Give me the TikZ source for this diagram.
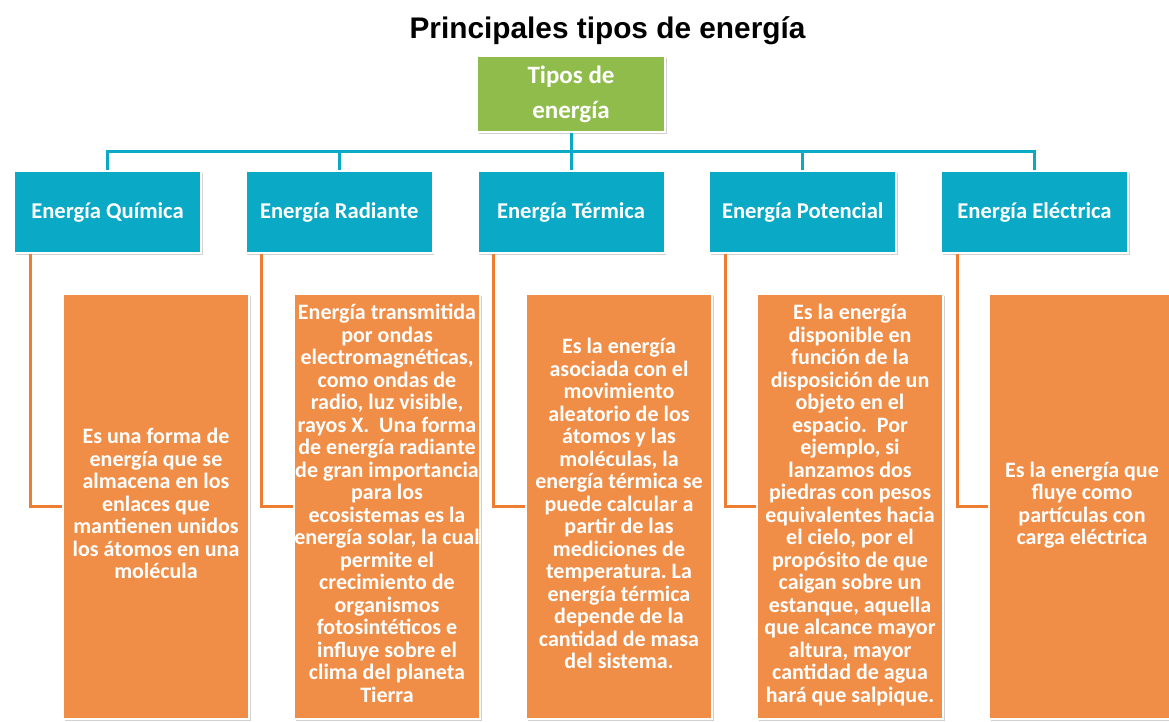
\documentclass[tikz,border=0pt]{standalone}
\usepackage{fontspec}
\setmainfont{Carlito}
\newfontfamily\titlefont{Liberation Sans}
\usetikzlibrary{shadows}
\frenchspacing
\definecolor{cblue}{HTML}{0AA9C6}
\definecolor{cgreen}{HTML}{8FBC4A}
\definecolor{corange}{HTML}{F08E48}
\definecolor{cline}{HTML}{ED7D31}
\newcommand{\mlines}[1]{\makebox[0pt]{\begin{tabular}{@{}c@{}}#1\end{tabular}}}
\tikzset{
  boxbase/.style={rectangle, inner sep=0pt, draw=white, line width=2pt,
    drop shadow={shadow xshift=1.5pt, shadow yshift=-2pt, fill=black, opacity=0.18},
    text=white, align=center, font=\bfseries},
  rootbox/.style={boxbase, fill=cgreen, minimum width=188pt, minimum height=76pt,
    font=\bfseries\fontsize{25}{35}\selectfont},
  headbox/.style={boxbase, fill=cblue, minimum width=187pt, minimum height=81pt,
    font=\bfseries\fontsize{22.6}{26}\selectfont},
  descbox/.style={boxbase, fill=corange, minimum width=186pt, minimum height=425pt,
    font=\bfseries\fontsize{22}{22.5}\selectfont},
  busline/.style={draw=cblue, line width=3pt},
  legline/.style={draw=cline, line width=3pt}
}
\begin{document}
\begin{tikzpicture}[x=1pt,y=-1pt]
\clip (0,0) rectangle (1169,722);
\fill[white] (0,0) rectangle (1169,722);
\node[anchor=base, font=\titlefont\bfseries\fontsize{29.8}{34}\selectfont] (title) at (607.5,38.5) {Principales tipos de energía};
\node[rootbox] (root) at (571,94) {\raisebox{4pt}{\mlines{Tipos de\\energía}}};

\node[headbox] (h1) at (107.5,212) {Energía Química};
\node[headbox] (h2) at (339.25,212) {Energía Radiante};
\node[headbox] (h3) at (571,212) {Energía Térmica};
\node[headbox] (h4) at (802.75,212) {Energía Potencial};
\node[headbox] (h5) at (1034.5,212) {Energía Eléctrica};

\node[descbox] (d1) at (156,506.5) {\mlines{Es una forma de\\energía que se\\almacena en los\\enlaces que\\mantienen unidos\\los átomos en una\\molécula}};
\node[descbox] (d2) at (387,506.5) {\mlines{Energía transmitida\\por ondas\\electromagnéticas,\\como ondas de\\radio, luz visible,\\rayos X.\ \ Una forma\\de energía radiante\\de gran importancia\\para los\\ecosistemas es la\\energía solar, la cual\\permite el\\crecimiento de\\organismos\\fotosintéticos e\\influye sobre el\\clima del planeta\\Tierra}};
\node[descbox] (d3) at (619,506.5) {\mlines{Es la energía\\asociada con el\\movimiento\\aleatorio de los\\átomos y las\\moléculas, la\\energía térmica se\\puede calcular a\\partir de las\\mediciones de\\temperatura. La\\energía térmica\\depende de la\\cantidad de masa\\del sistema.}};
\node[descbox] (d4) at (850,506.5) {\mlines{Es la energía\\disponible en\\función de la\\disposición de un\\objeto en el\\espacio.\ \ Por\\ejemplo, si\\lanzamos dos\\piedras con pesos\\equivalentes hacia\\el cielo, por el\\propósito de que\\caigan sobre un\\estanque, aquella\\que alcance mayor\\altura, mayor\\cantidad de agua\\hará que salpique.}};
\node[descbox] (d5) at (1082,506.5) {\mlines{Es la energía que\\fluye como\\partículas con\\carga eléctrica}};

\coordinate (bus) at (571,152);
\draw[busline] (root.south) -- (h3.north);
\foreach \h in {h1,h2,h4,h5}{
  \draw[busline] (\h.north) -- (\h.north |- bus) -- (bus);
}
\foreach \i in {1,...,5}{
  \draw[legline] ([xshift=17pt]h\i.south west) |- (d\i.west);
}
\end{tikzpicture}
\end{document}
